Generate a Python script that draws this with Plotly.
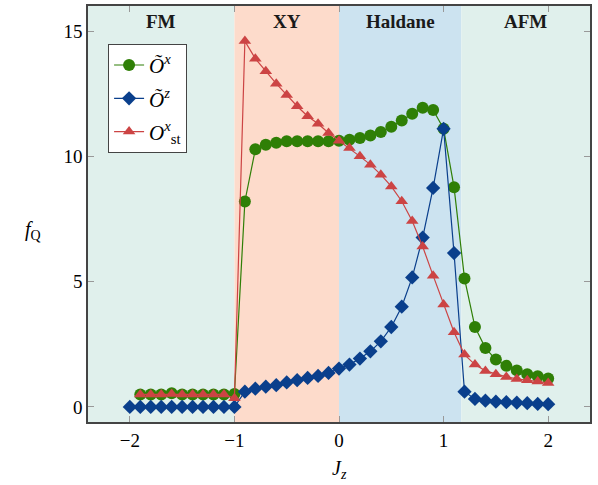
import plotly.graph_objects as go

jz = [round(-2 + 0.1 * i, 1) for i in range(41)]

ox_x = jz[1:]
ox_vals = [0.5, 0.5, 0.5, 0.55, 0.5, 0.5, 0.5, 0.5, 0.5, 0.52,
           8.2, 10.28, 10.46, 10.54, 10.6, 10.6, 10.6, 10.6, 10.6, 10.62,
           10.66, 10.73, 10.83, 10.97, 11.18, 11.43, 11.7, 11.94, 11.85, 11.1,
           8.77, 5.13, 3.19, 2.35, 1.89, 1.64, 1.46, 1.31, 1.23, 1.14]

oz_x = jz
oz_vals = [0, 0, 0, 0, 0, 0, 0, 0, 0, 0, 0,
           0.61, 0.73, 0.81, 0.87, 0.98, 1.07, 1.16, 1.24, 1.36, 1.53,
           1.69, 1.93, 2.22, 2.62, 3.19, 4.0, 5.17, 6.76, 8.74, 11.1,
           6.14, 0.61, 0.32, 0.25, 0.21, 0.19, 0.17, 0.15, 0.12, 0.11]

ost_x = jz[1:]
ost_vals = [0.5, 0.5, 0.5, 0.52, 0.5, 0.5, 0.5, 0.5, 0.5, 0.35,
            14.6, 13.9, 13.4, 12.9, 12.45, 12.0, 11.6, 11.3, 10.93, 10.62,
            10.33, 10.0, 9.67, 9.27, 8.8, 8.21, 7.42, 6.4, 5.24, 4.09,
            2.98, 2.09, 1.69, 1.44, 1.31, 1.2, 1.12, 1.07, 1.02, 0.96]

phase_names = ["FM", "XY", "Haldane", "AFM"]
phase_bounds = [-2.4, -1.0, 0.0, 1.17, 2.4]
phase_colors = ["#e0f0ec", "#fddbcb", "#cce3f0", "#e0f0ec"]

GREEN = "#2f7f06"
BLUE = "#0a3f8c"
RED = "#cc4444"
FONT = "Liberation Serif"

fig = go.Figure()

fig.add_trace(go.Scatter(x=ox_x, y=ox_vals, mode="lines+markers",
                         name="<i>Õ</i><sup><i>x</i></sup>", legendgroup="a",
                         line=dict(color=GREEN, width=1.2),
                         marker=dict(symbol="circle", size=12, color=GREEN)))
fig.add_trace(go.Scatter(x=oz_x, y=oz_vals, mode="lines+markers",
                         name="<i>Õ</i><sup><i>z</i></sup>", legendgroup="b",
                         line=dict(color=BLUE, width=1.2),
                         marker=dict(symbol="diamond", size=11, color=BLUE)))
fig.add_trace(go.Scatter(x=ost_x, y=ost_vals, mode="lines+markers",
                         name="<i>O</i><sup><i>x</i></sup><sub>st</sub>", legendgroup="c",
                         line=dict(color=RED, width=1.2),
                         marker=dict(symbol="triangle-up", size=11, color=RED)))

shapes = []
annotations = []
for i, name in enumerate(phase_names):
    x0, x1 = phase_bounds[i], phase_bounds[i + 1]
    shapes.append(dict(type="rect", xref="x", yref="paper", x0=x0, x1=x1,
                       y0=0, y1=1, fillcolor=phase_colors[i], line=dict(width=0),
                       layer="below"))
    annotations.append(dict(x=(x0 + x1) / 2, y=15.4, xref="x", yref="y",
                            text="<b>%s</b>" % name, showarrow=False,
                            font=dict(family=FONT, size=19, color="#1a1a1a")))

annotations.append(dict(x=-0.13, y=0.46, xref="paper", yref="paper",
                        text="<i>f</i><sub>Q</sub>", showarrow=False,
                        font=dict(family=FONT, size=20, color="black")))
annotations.append(dict(x=0.5, y=-0.115, xref="paper", yref="paper",
                        text="<i>J</i><sub><i>z</i></sub>", showarrow=False,
                        yanchor="middle",
                        font=dict(family=FONT, size=20, color="black")))

fig.update_layout(
    width=598, height=485,
    margin=dict(l=88, r=8, t=4, b=63),
    paper_bgcolor="white", plot_bgcolor="white",
    font=dict(family=FONT, size=19, color="black"),
    shapes=shapes, annotations=annotations,
    showlegend=True,
    legend=dict(x=0.04, y=0.909, xanchor="left", yanchor="top",
                bgcolor="white", bordercolor="#444", borderwidth=1,
                font=dict(family=FONT, size=21),
                tracegroupgap=3),
    xaxis=dict(range=[-2.4, 2.4], tickvals=[-2, -1, 0, 1, 2],
               ticktext=["−2", "−1", "0", "1", "2"],
               ticks="inside", ticklen=6, tickcolor="#999",
               showline=True, linecolor="#444", linewidth=1.5, mirror="ticks",
               showgrid=False, zeroline=False),
    yaxis=dict(range=[-0.6, 16], tickvals=[0, 5, 10, 15],
               ticks="inside", ticklen=6, tickcolor="#999",
               showline=True, linecolor="#444", linewidth=1.5, mirror="ticks",
               showgrid=False, zeroline=False),
)

fig.write_html("out.html", config={"displayModeBar": False},
               post_script="document.body.style.margin='0';")
